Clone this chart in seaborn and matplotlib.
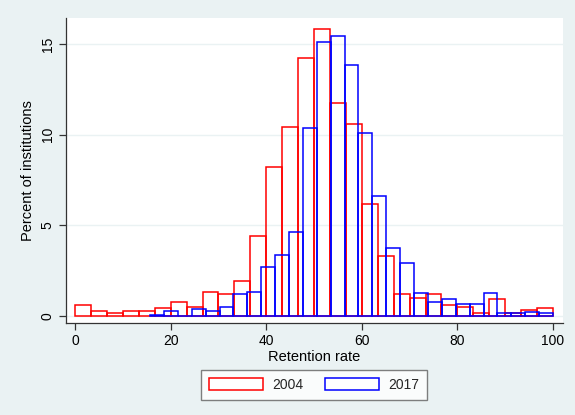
import numpy as np
import pandas as pd
import matplotlib
matplotlib.use("Agg")
import matplotlib.pyplot as plt
import seaborn as sns
from matplotlib.patches import Patch

# ---- data (percent of institutions per retention-rate bin) ----
series_labels = ["2004", "2017"]
heights_2004 = [0.57, 0.24, 0.13, 0.24, 0.24, 0.41, 0.76, 0.50, 1.31, 1.22,
                1.92, 4.40, 8.22, 10.45, 14.23, 15.85, 11.76, 10.60, 6.16, 3.32,
                1.22, 1.00, 1.22, 0.59, 0.50, 0.13, 0.94, 0.13, 0.30, 0.41]
heights_2017 = [0.05, 0.28, 0.00, 0.39, 0.28, 0.50, 1.22, 1.33, 2.70, 3.33,
                4.60, 10.40, 15.15, 15.46, 13.88, 10.08, 6.60, 3.76, 2.93, 1.24,
                0.78, 0.90, 0.63, 0.63, 1.24, 0.17, 0.13, 0.22, 0.17]
bins_2004 = (0.0, 100.0, 30)     # start, end, number of bins
bins_2017 = (15.7, 100.0, 29)
x_ticks = [0, 20, 40, 60, 80, 100]
y_ticks = [0, 5, 10, 15]
x_label = "Retention rate"
y_label = "Percent of institutions"

edges_2004 = np.linspace(bins_2004[0], bins_2004[1], bins_2004[2] + 1)
edges_2017 = np.linspace(bins_2017[0], bins_2017[1], bins_2017[2] + 1)

df04 = pd.DataFrame({"x": (edges_2004[:-1] + edges_2004[1:]) / 2, "w": heights_2004})
df17 = pd.DataFrame({"x": (edges_2017[:-1] + edges_2017[1:]) / 2, "w": heights_2017})

sns.set_theme(style="white")
plt.rcParams['font.family'] = ['Liberation Sans', 'DejaVu Sans']

BG = '#EAF2F3'
fig = plt.figure(figsize=(5.75, 4.15), dpi=100, facecolor=BG)
ax = fig.add_axes([66 / 575, 92 / 415, 497 / 575, 305 / 415])
ax.set_facecolor('white')
ax.set_axisbelow(True)

sns.histplot(data=df04, x="x", weights="w", bins=bins_2004[2],
             binrange=(bins_2004[0], bins_2004[1]), fill=False,
             element="bars", color="#FF0000", linewidth=1.1, ax=ax)
sns.histplot(data=df17, x="x", weights="w", bins=bins_2017[2],
             binrange=(bins_2017[0], bins_2017[1]), fill=False,
             element="bars", color="#0000FF", linewidth=1.1, ax=ax)

ax.set_xlim(-1.9, 102.1)
ax.set_ylim(-0.4, 16.45)
ax.set_xticks(x_ticks)
ax.set_xticklabels([str(t) for t in x_ticks])
ax.set_yticks(y_ticks)
ax.set_yticklabels([str(t) for t in y_ticks], rotation=90, va='center')
ax.yaxis.grid(True, color=BG, linewidth=1.0)
ax.xaxis.grid(False)

for s in ['top', 'right']:
    ax.spines[s].set_visible(False)
for s in ['left', 'bottom']:
    ax.spines[s].set_color('#333333')
    ax.spines[s].set_linewidth(0.9)
ax.tick_params(direction='out', length=5, width=0.9, color='#333333',
               labelsize=10, pad=3, left=True, bottom=True, labelcolor='black')

ax.set_xlabel(x_label, fontsize=10.5, labelpad=1, color='black')
ax.set_ylabel(y_label, fontsize=10.5, labelpad=4, color='black')

handles = [Patch(facecolor='white', edgecolor='#FF0000', linewidth=1.1, label=series_labels[0]),
           Patch(facecolor='white', edgecolor='#0000FF', linewidth=1.1, label=series_labels[1])]
leg = fig.legend(handles=handles, loc='center', bbox_to_anchor=(314 / 575, 1 - 385 / 415),
                 ncol=2, frameon=True, fancybox=False, edgecolor='#606060',
                 fontsize=10, handlelength=3.9, handleheight=0.95, columnspacing=1.6,
                 borderpad=0.55, handletextpad=0.65)
leg.get_frame().set_linewidth(1.0)

fig.savefig("out.png", dpi=100, facecolor=BG)
